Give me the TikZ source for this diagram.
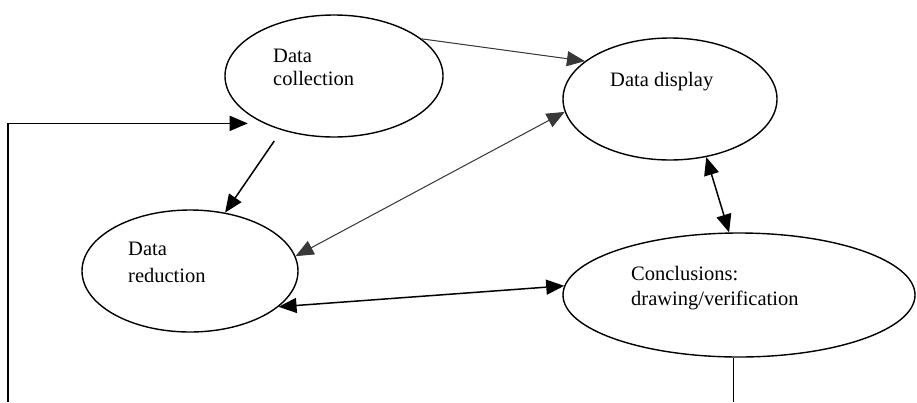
\documentclass[tikz,border=0pt]{standalone}
\usepackage{fontspec}
\setmainfont{Liberation Serif}
\usetikzlibrary{arrows.meta,shapes.geometric,calc}

\begin{document}
\begin{tikzpicture}[x=1pt,y=-1pt,
  >={Triangle[length=18pt,width=15pt]},
  stage/.style={draw=black, line width=1.4pt, ellipse, inner sep=0pt},
  lbl/.style={anchor=base west, inner sep=0pt, font=\fontsize{20.5}{23}\selectfont},
  link/.style={draw=black, line width=1.5pt},
  faintlink/.style={draw=black!78, fill=black!78, line width=1pt},
  loopline/.style={draw=black, line width=1.5pt}
]
  % canvas
  \fill[white] (0,0) rectangle (917,402);
  \useasboundingbox (0,0) rectangle (917,402);

  % stages of the analysis
  \node[stage, minimum width=218pt, minimum height=122pt] (coll) at (334,76) {};
  \node[stage, minimum width=214pt, minimum height=122pt] (disp) at (670,99) {};
  \node[stage, minimum width=216pt, minimum height=122pt] (red)  at (190,271) {};
  \node[stage, minimum width=352pt, minimum height=124pt] (conc) at (739,295) {};

  % labels
  \node[lbl] (collA) at (273,62) {Data};
  \node[lbl] (collB) at (273,85) {collection};
  \node[lbl] (dispA) at (610,86) {Data display};
  \node[lbl] (redA)  at (128,255) {Data};
  \node[lbl] (redB)  at (128,282) {reduction};
  \node[lbl] (concA) at (631,280) {Conclusions:};
  \node[lbl] (concB) at (631,305) {drawing/verification};

  % connectors between the stages
  \draw[faintlink, ->] (coll.23) -- (disp.156);
  \draw[link, ->, shorten <=13pt] (coll.226) -- (red.59);
  \draw[faintlink, <->] (red.8) -- (disp.187);
  \draw[link, <->] (red.-22) -- (conc.177);
  \draw[link, <->] (disp.-58) -- (conc.99);

  % feedback loop running below the frame
  \coordinate (fbL) at (8,402);
  \coordinate (fbR) at (733,402);
  \draw[loopline, ->] (fbL) |- ([xshift=-16pt]coll.214);
  \draw[draw=black, line width=1pt] (fbR) -- (fbR |- conc.south);
\end{tikzpicture}
\end{document}
